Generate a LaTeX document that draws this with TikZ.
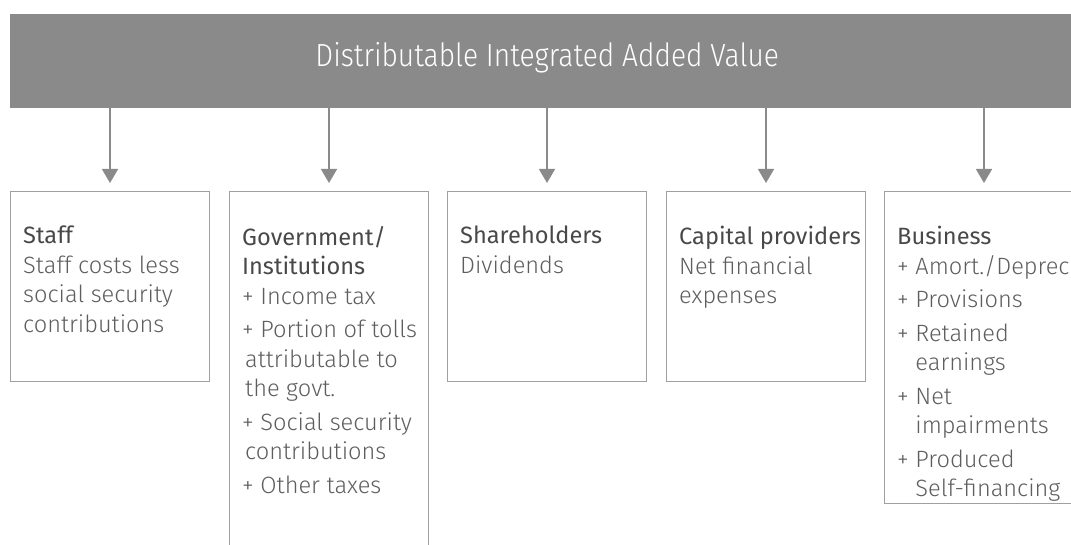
\documentclass[tikz,border=0pt]{standalone}
\usepackage{fontspec}
\setmainfont{Fira Sans}
\newfontfamily\lightfont{Fira Sans Light}
\newfontfamily\barfont{Fira Sans Light}[FakeStretch=0.88]
\usetikzlibrary{arrows.meta}

\definecolor{bargray}{HTML}{8A8A8A}
\definecolor{boxgray}{HTML}{A0A0A0}
\definecolor{headgray}{HTML}{484848}
\definecolor{bodygray}{HTML}{5E5E5E}

\tikzstyle{bar}=[rectangle,fill=bargray,text=white,anchor=north west,minimum width=1074pt,minimum height=94pt,inner sep=0pt,text depth=14pt,font=\barfont\fontsize{32}{36}\selectfont]
\tikzstyle{cell}=[rectangle,draw=boxgray,line width=1pt,anchor=north west,minimum width=199pt,inner sep=0pt]
\tikzstyle{celltext}=[anchor=north west,inner sep=0pt,align=left,text=bodygray,font=\lightfont\fontsize{23.6}{29.5}\selectfont,xshift=13pt,yshift=-35pt]
\tikzstyle{flow}=[draw=bargray,line width=1.5pt,-{Triangle[width=16pt,length=14pt]},shorten >=8pt]

\begin{document}
\begin{tikzpicture}[x=1pt,y=-1pt]
	\useasboundingbox (0,0) rectangle (1071,545);
	\clip (0,0) rectangle (1071,545);

	\node (DAV) at (10,14) [bar] {Distributable Integrated Added Value};

		\node (staff) at (10,191)  [cell,minimum height=190pt] {};
		\node (govt)  at (229,191) [cell,minimum height=380pt] {};
		\node (share) at (447,191) [cell,minimum height=190pt] {};
		\node (capit) at (666,191) [cell,minimum height=190pt] {};
		\node (busin) at (884,191) [cell,minimum height=312pt] {};

	\node (staffT) at (staff.north west) [celltext] {\textcolor{headgray}{\normalfont Staff}\\
		Staff costs less\\
		social security\\
		contributions};
	\node (govtT) at (govt.north west) [celltext] {\textcolor{headgray}{\normalfont Government/}\\
		\textcolor{headgray}{\normalfont Institutions}\\
		+ Income tax\\[4pt]
		+ Portion of tolls\\
		\hspace*{3pt}attributable to\\
		\hspace*{3pt}the govt.\\[4pt]
		+ Social security\\
		\hspace*{3pt}contributions\\[4pt]
		+ Other taxes};
	\node (shareT) at (share.north west) [celltext] {\textcolor{headgray}{\normalfont Shareholders}\\
		Dividends};
	\node (capitT) at (capit.north west) [celltext] {\textcolor{headgray}{\normalfont Capital providers}\\
		Net financial\\
		expenses};
	\node (businT) at (busin.north west) [celltext] {\textcolor{headgray}{\normalfont Business}\\
		+ Amort./Deprec\\[4pt]
		+ Provisions\\[4pt]
		+ Retained\\
		\hphantom{+}\ earnings\\[4pt]
		+ Net\\
		\hphantom{+}\ impairments\\[4pt]
		+ Produced\\
		\hphantom{+}\ Self-financing};

	\draw [flow] (staff.north |- DAV.south) to (staff.north);
	\draw [flow] (govt.north |- DAV.south) to (govt.north);
	\draw [flow] (share.north |- DAV.south) to (share.north);
	\draw [flow] (capit.north |- DAV.south) to (capit.north);
	\draw [flow] (busin.north |- DAV.south) to (busin.north);

\end{tikzpicture}
\end{document}
